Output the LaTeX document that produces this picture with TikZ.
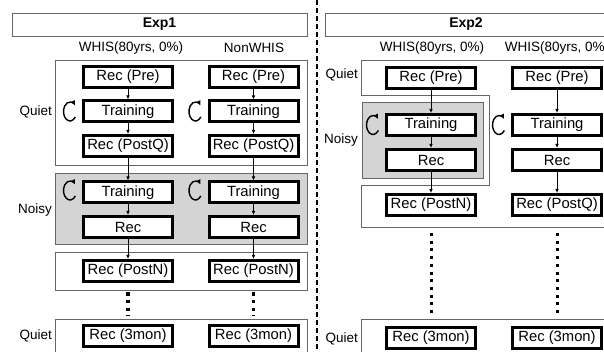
\documentclass[tikz,border=0pt]{standalone}
\usepackage{fontspec}
\setmainfont{Liberation Sans}
\usetikzlibrary{positioning, arrows.meta}

\begin{document}
\begin{tikzpicture}[x=1pt, y=-1pt,
	recbox/.style = {draw, line width=3pt, fill=white, minimum width=89pt, minimum height=21pt, inner sep=0pt, font=\fontsize{14.8}{17}\selectfont},
	grp/.style = {draw=black!60, line width=0.9pt},
	noisy/.style = {grp, fill=black!17},
	lbl/.style = {font=\fontsize{13.5}{16}\selectfont, inner sep=1pt},
	head/.style = {font=\fontsize{14}{16}\selectfont\bfseries},
	flow/.style = {-{Latex[length=4pt, width=3.5pt]}, line width=0.7pt},
	dots/.style = {line width=3.5pt, dash pattern=on 3.5pt off 4.3pt},
	loop/.style = {-{Latex[length=5pt, width=5pt]}, line width=1.4pt}]
	\useasboundingbox (0,0) rectangle (604,352);
	\clip (0,0) rectangle (604,352);

	% Exp1
	\draw[grp] (12,13) rectangle (307,36);
	\node[head] (exp1) at (159.5,24.5) {Exp1};
	\node[lbl] (c1) at (131,48) {WHIS(80yrs, 0\%)};
	\node[lbl] (c2) at (254,48) {NonWHIS};
	\draw[grp] (55,60) rectangle (307,165);
	\draw[noisy] (55,173) rectangle (307,244);
	\draw[grp] (55,252) rectangle (307,290);
	\draw[grp] (55,319) rectangle (307,370);
	\node[lbl, anchor=east] (q1) at (53,112) {Quiet};
	\node[lbl, anchor=east] (n1) at (53,210) {Noisy};
	\node[lbl, anchor=east] (q2) at (53,336) {Quiet};

	\foreach \c/\x in {a/128, b/253.5} {
		\node[recbox] (pre\c) at (\x,77) {Rec (Pre)};
		\node[recbox] (tra\c) at (\x,111.5) {Training};
		\node[recbox] (pq\c) at (\x,146) {Rec (PostQ)};
		\node[recbox] (trn\c) at (\x,192.5) {Training};
		\node[recbox] (rn\c) at (\x,227) {Rec};
		\node[recbox] (pn\c) at (\x,271) {Rec (PostN)};
		\node[recbox] (mon\c) at (\x,335.5) {Rec (3mon)};
		\draw[flow] (pre\c) -- (tra\c);
		\draw[flow] (tra\c) -- (pq\c);
		\draw[flow] (pq\c) -- (trn\c);
		\draw[flow] (trn\c) -- (rn\c);
		\draw[flow] (rn\c) -- (pn\c);
		\coordinate (d1\c) at ([yshift=-9pt]pn\c.south);
		\coordinate (d2\c) at ([yshift=8pt]mon\c.north);
		\draw[dots] (d1\c) -- (d2\c);
		\draw[loop] ([xshift=-12pt]tra\c.west) ++(-35:6.5pt and 9.5pt) arc[start angle=-35, end angle=-322, x radius=6.5pt, y radius=9.5pt];
		\draw[loop] ([xshift=-12pt, yshift=2pt]trn\c.west) ++(-35:6.5pt and 9.5pt) arc[start angle=-35, end angle=-322, x radius=6.5pt, y radius=9.5pt];
	}

	% divider
	\draw[line width=1.1pt, dash pattern=on 5pt off 3pt] (317,0) -- (317,352);

	% Exp2
	\draw[grp] (325,13) rectangle (615,36);
	\node[head] (exp2) at (466,24.5) {Exp2};
	\node[lbl] (c3) at (432,48) {WHIS(80yrs, 0\%)};
	\node[lbl] (c4) at (557,48) {WHIS(80yrs, 0\%)};
	\draw[grp] (361,60) -- (615,60) -- (615,227) -- (361,227) -- (361,185) -- (489,185) -- (489,95) -- (361,95) -- cycle;
	\draw[noisy] (362,102) rectangle (483,178);
	\draw[grp] (361,319) rectangle (615,370);
	\node[lbl, anchor=east] (q3) at (359,75) {Quiet};
	\node[lbl, anchor=east] (n2) at (359,140) {Noisy};
	\node[lbl, anchor=east] (q4) at (359,339) {Quiet};

	\foreach \c/\x/\last in {c/431/Rec (PostN), d/557/Rec (PostQ)} {
		\node[recbox] (pre\c) at (\x,78) {Rec (Pre)};
		\node[recbox] (tra\c) at (\x,125) {Training};
		\node[recbox] (rn\c) at (\x,160) {Rec};
		\node[recbox] (post\c) at (\x,205) {\last};
		\node[recbox] (mon\c) at (\x,338) {Rec (3mon)};
		\draw[flow] (pre\c) -- (tra\c);
		\draw[flow] (tra\c) -- (rn\c);
		\draw[flow] (rn\c) -- (post\c);
		\coordinate (d1\c) at ([yshift=-16pt]post\c.south);
		\coordinate (d2\c) at ([yshift=11pt]mon\c.north);
		\draw[dots, line width=3pt, dash pattern=on 3pt off 4.7pt] (d1\c) -- (d2\c);
		\draw[loop] ([xshift=-12pt]tra\c.west) ++(-35:6.5pt and 9.5pt) arc[start angle=-35, end angle=-322, x radius=6.5pt, y radius=9.5pt];
	}
\end{tikzpicture}
\end{document}
